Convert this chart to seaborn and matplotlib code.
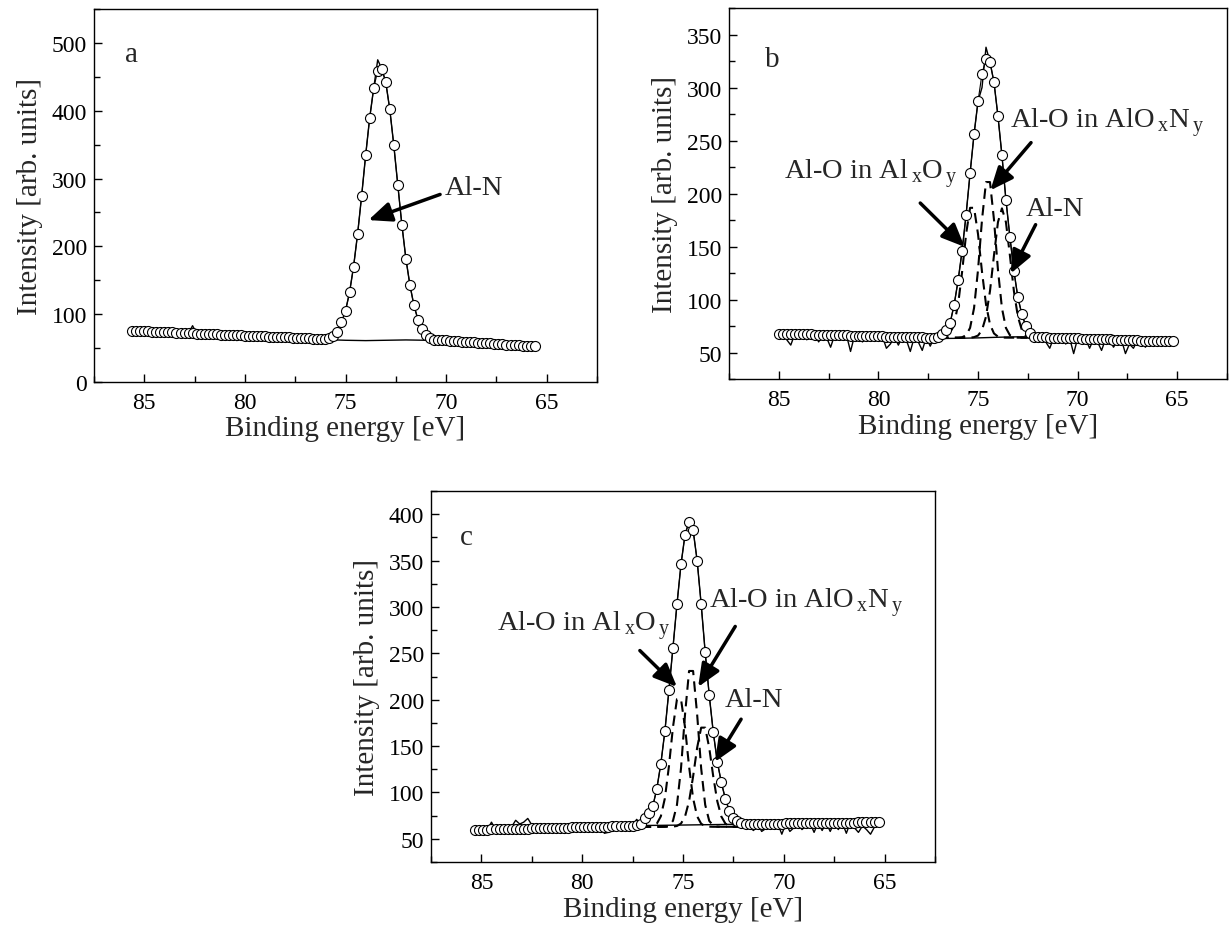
import numpy as np
import pandas as pd
import seaborn as sns
import matplotlib
matplotlib.use("Agg")
from matplotlib import pyplot as plt
from matplotlib.ticker import MultipleLocator

# ---------------- panel a : single Al-N component ----------------
energy_a = np.round(np.arange(85.6, 65.5, -0.2), 1)
fit_a = [75.5, 75.2, 75.0, 74.7, 74.5, 74.2, 74.0, 73.7, 73.5, 73.2,
         73.0, 72.7, 72.4, 72.2, 71.9, 71.7, 71.4, 71.2, 70.9, 70.7,
         70.4, 70.1, 69.9, 69.6, 69.4, 69.1, 68.9, 68.6, 68.4, 68.1,
         67.9, 67.6, 67.3, 67.1, 66.8, 66.6, 66.3, 66.1, 65.8, 65.6,
         65.3, 65.1, 64.8, 64.5, 64.3, 64.0, 63.8, 63.6, 63.5, 64.5,
         68, 74, 88, 105, 132, 170, 218, 274, 334, 389, 433, 459, 462,
         442, 402, 349, 290, 232, 182, 143, 113, 92, 78, 69, 65,
         62.5, 62.0, 61.6, 61.2, 60.8, 60.4, 60.0, 59.6, 59.2, 58.8,
         58.4, 58.0, 57.6, 57.2, 56.8, 56.4, 56.0, 55.6, 55.2, 54.8,
         54.4, 54.0, 53.6, 53.2, 52.8, 52.4]
# points where the measured curve leaves the fit
raw_a_diff = {82.6: 83, 80.4: 61, 79.2: 60, 78.4: 60, 77.8: 60.5, 77.2: 59.5,
              76.4: 60, 73.4: 475, 70.6: 57, 69.6: 55}
bg_a_x = [85.6, 76.0, 75.0, 74.0, 73.0, 72.0, 71.0, 70.6, 65.6]
bg_a_y = [75.5, 62.5, 61.5, 61.0, 61.5, 62.0, 61.5, 61.0, 52.4]

# ---------------- panel b ----------------
energy_b = np.round(np.arange(85.0, 65.1, -0.2), 1)
fit_b = [67.8, 67.7, 67.6, 67.5, 67.4, 67.3, 67.2, 67.1, 67.0, 66.9,
         66.8, 66.7, 66.6, 66.5, 66.4, 66.3, 66.2, 66.1, 66.0, 65.9,
         65.8, 65.7, 65.6, 65.5, 65.4, 65.3, 65.2, 65.1, 65.0, 64.9,
         64.8, 64.7, 64.6, 64.5, 64.4, 64.3, 64.2, 64.1, 64.0, 64.0,
         65, 67, 71, 78, 95, 118, 146, 180, 219, 256, 287, 313, 327,
         324, 305, 273, 236, 194, 159, 127, 102, 86, 75, 68, 65,
         64.5, 64.4, 64.3, 64.1, 64.0, 63.9, 63.8, 63.6, 63.5, 63.4,
         63.3, 63.1, 63.0, 62.9, 62.8, 62.6, 62.5, 62.4, 62.3, 62.1,
         62.0, 61.9, 61.8, 61.6, 61.5, 61.4, 61.3, 61.1, 61.0, 60.9,
         60.8, 60.7, 60.6, 60.5, 60.5]
raw_b_diff = {84.6: 62, 84.4: 57, 84.0: 64, 83.6: 62, 83.0: 60, 82.6: 64,
              82.4: 55, 82.0: 62, 81.4: 51, 81.0: 63, 80.8: 60, 80.2: 63,
              79.6: 54, 79.4: 58, 79.0: 57, 78.6: 62, 78.4: 51, 78.0: 60,
              77.8: 52, 77.4: 56, 74.8: 300, 74.6: 338, 71.6: 60, 71.4: 54,
              71.0: 62, 70.6: 58, 70.2: 49, 69.8: 60, 69.4: 54, 69.0: 60,
              68.8: 52, 68.2: 55, 68.0: 61, 67.6: 49, 67.4: 58, 67.2: 54,
              66.6: 55, 66.2: 59, 65.8: 57}
bg_b_x = [85.0, 77.0, 76.0, 75.0, 74.0, 73.0, 72.2, 65.2]
bg_b_y = [67.8, 63.2, 63.4, 63.8, 64.4, 64.8, 64.6, 60.5]
comp_e_b = np.round(np.arange(77.0, 71.9, -0.2), 1)
alox_b = [64, 64.2, 65, 68, 76.6, 95.4, 126, 161.6, 186.5, 186.5, 161.6, 126,
          95.4, 76.6, 68, 65, 64.2, 64, 64, 64, 64, 64, 64, 64, 64, 64]
aloxn_b = [64, 64, 64, 64, 64, 64, 64.4, 66.3, 73.2, 91.9, 128, 175.4, 210.8,
           210.8, 175.4, 128, 91.9, 73.2, 66.3, 64.4, 64, 64, 64, 64, 64, 64]
aln_b = [64, 64, 64, 64, 64, 64, 64, 64, 64, 64.5, 66, 71.2, 83.9, 108, 141.6,
         173, 186, 173, 141.6, 108, 83.9, 71.2, 66, 64.5, 64, 64]

# ---------------- panel c ----------------
energy_c = np.round(np.arange(85.3, 65.2, -0.2), 1)
fit_c = [59.7, 59.8, 59.9, 60.0, 60.1, 60.2, 60.4, 60.5, 60.6, 60.7,
         60.8, 60.9, 61.0, 61.1, 61.2, 61.3, 61.5, 61.6, 61.7, 61.8,
         61.9, 62.0, 62.1, 62.2, 62.3, 62.4, 62.6, 62.7, 62.8, 62.9,
         63.0, 63.1, 63.2, 63.3, 63.4, 63.5, 63.7, 63.8, 63.9, 64.2, 64.8,
         66, 73, 78, 85, 104, 131, 166, 210, 256, 303, 346, 378, 392,
         383, 350, 303, 251, 205, 165, 133, 111, 93, 80, 73, 69, 67,
         66.0, 66.1, 66.1, 66.2, 66.2, 66.3, 66.4, 66.4, 66.5, 66.5,
         66.6, 66.7, 66.7, 66.8, 66.8, 66.9, 67.0, 67.0, 67.1, 67.1,
         67.2, 67.3, 67.3, 67.4, 67.4, 67.5, 67.6, 67.6, 67.7, 67.7,
         67.8, 67.9, 67.9, 68.0]
raw_c_diff = {84.9: 62, 84.7: 60, 84.5: 68, 84.3: 60, 83.9: 62, 83.5: 63,
              83.3: 70, 83.1: 66, 82.9: 68, 82.7: 72, 82.5: 65, 81.9: 60,
              81.3: 62, 80.7: 58, 80.1: 60, 79.5: 62, 78.9: 56, 78.7: 57,
              78.3: 60, 77.7: 62, 77.3: 71, 71.7: 62, 71.5: 59, 71.1: 58,
              70.9: 61, 70.5: 62, 70.1: 55, 69.7: 58, 69.5: 62, 69.1: 60,
              68.9: 64, 68.5: 57, 68.1: 59, 67.7: 58, 67.3: 60, 66.9: 56,
              66.5: 62, 66.3: 57, 66.1: 64, 65.9: 60, 65.7: 55, 65.5: 63}
bg_c_x = [85.3, 77.2, 76.0, 75.0, 74.0, 73.0, 72.0, 65.3]
bg_c_y = [59.7, 64.4, 64.6, 64.9, 65.2, 65.5, 65.9, 68.0]
comp_e_c = np.round(np.arange(77.1, 72.0, -0.2), 1)
alox_c = [63, 63, 63.1, 63.7, 66.3, 74.3, 93.7, 128, 170.2, 200.6, 200.6, 170.2,
          128, 93.7, 74.3, 66.3, 63.7, 63.1, 63, 63, 63, 63, 63, 63, 63, 63]
aloxn_c = [63, 63, 63, 63, 63, 63, 63.2, 64.3, 69.4, 86.7, 126, 184.3, 231,
           231, 184.3, 126, 86.7, 69.4, 64.3, 63.2, 63, 63, 63, 63, 63, 63]
aln_c = [63, 63, 63, 63, 63, 63, 63, 63, 63.2, 63.9, 66.5, 74.1, 90.5, 117.2,
         148.2, 169.9, 169.9, 148.2, 117.2, 90.5, 74.1, 66.5, 63.9, 63.2, 63, 63]

lbl_alox = r"Al-O in Al$_{\,\mathregular{x}}$O$_{\,\mathregular{y}}$"
lbl_aloxn = r"Al-O in AlO$_{\,\mathregular{x}}$N$_{\,\mathregular{y}}$"

panels = [
    dict(letter="a", rect=[0.0764, 0.5873, 0.409, 0.402], e=energy_a, fit=fit_a,
         raw=raw_a_diff, bgx=bg_a_x, bgy=bg_a_y, comps=None,
         ylim=(0, 550), ymaj=100, ymin=50, letter_xy=(0.074, 0.88),
         notes=[("Al-N", (68.6, 287), (70.3, 276.5), (73.86, 238.7))]),
    dict(letter="b", rect=[0.5927, 0.5905, 0.4049, 0.3998], e=energy_b, fit=fit_b,
         raw=raw_b_diff, bgx=bg_b_x, bgy=bg_b_y,
         comps=(comp_e_b, [alox_b, aloxn_b, aln_b]),
         ylim=(25, 375), ymaj=50, ymin=25, letter_xy=(0.086, 0.862),
         notes=[(lbl_alox, (80.4, 219), (77.9, 191), (75.67, 149.6)),
                (lbl_aloxn, (68.5, 267), (72.34, 248), (74.38, 203)),
                ("Al-N", (71.15, 186), (72.11, 170.6), (73.36, 124.5))]),
    dict(letter="c", rect=[0.3504, 0.070, 0.4098, 0.3998], e=energy_c, fit=fit_c,
         raw=raw_c_diff, bgx=bg_c_x, bgy=bg_c_y,
         comps=(comp_e_c, [alox_c, aloxn_c, aln_c]),
         ylim=(25, 425), ymaj=50, ymin=25, letter_xy=(0.071, 0.876),
         notes=[(lbl_alox, (79.9, 280), (77.14, 253), (75.3, 213.8)),
                (lbl_aloxn, (68.9, 305), (72.41, 279), (74.25, 213.8)),
                ("Al-N", (71.47, 200), (72.12, 179), (73.42, 133))]),
]

sns.set_theme(style="ticks")
plt.rcParams['font.family'] = ['Liberation Serif', 'DejaVu Serif']
plt.rcParams['mathtext.fontset'] = 'custom'
plt.rcParams['mathtext.rm'] = 'Liberation Serif'

fig = plt.figure(figsize=(12.3, 9.28), dpi=100)

for p in panels:
    ax = fig.add_axes(p["rect"])
    e = p["e"]
    fit = np.array(p["fit"], dtype=float)
    raw = fit.copy()
    for k, v in p["raw"].items():
        raw[np.isclose(e, k)] = v
    df = pd.DataFrame({"energy": e, "fit": fit, "raw": raw})

    sns.lineplot(data=pd.DataFrame({"x": p["bgx"], "y": p["bgy"]}), x="x", y="y",
                 ax=ax, color="black", lw=1.0, sort=False, estimator=None)
    if p["comps"] is not None:
        ce, comps = p["comps"]
        for c in comps:
            sns.lineplot(x=ce, y=c, ax=ax, color="black", lw=1.5,
                         linestyle=(0, (5, 3)), sort=False, estimator=None)
    sns.lineplot(data=df, x="energy", y="raw", ax=ax, color="black", lw=1.0,
                 sort=False, estimator=None)
    sns.lineplot(data=df, x="energy", y="fit", ax=ax, color="black", lw=0.8,
                 sort=False, estimator=None)
    sns.scatterplot(data=df, x="energy", y="fit", ax=ax, marker="o", s=52,
                    facecolor="white", edgecolor="black", linewidth=0.8, zorder=3)

    ax.set_xlim(87.5, 62.5)
    ax.set_ylim(*p["ylim"])
    ax.xaxis.set_major_locator(MultipleLocator(5))
    ax.xaxis.set_minor_locator(MultipleLocator(2.5))
    ax.yaxis.set_major_locator(MultipleLocator(p["ymaj"]))
    ax.yaxis.set_minor_locator(MultipleLocator(p["ymin"]))
    ax.tick_params(which="both", direction="in", top=False, right=False,
                   width=1.0, labelsize=17, colors="black")
    ax.tick_params(which="major", length=6)
    ax.tick_params(which="minor", length=4)
    ax.tick_params(axis="x", pad=7)
    ax.tick_params(axis="y", pad=5)
    for s in ax.spines.values():
        s.set_linewidth(1.0)
        s.set_color("black")
    ax.set_xlabel("Binding energy [eV]", fontsize=21, labelpad=2)
    ax.set_ylabel("Intensity [arb. units]", fontsize=21, labelpad=6)

    ax.text(*p["letter_xy"], p["letter"], transform=ax.transAxes, fontsize=21,
            ha="center", va="center")
    for txt, pos, tail, head in p["notes"]:
        ax.annotate("", xy=head, xytext=tail,
                    arrowprops=dict(arrowstyle="-|>,head_length=0.7,head_width=0.3",
                                    lw=2.5, color="black", shrinkA=0, shrinkB=0,
                                    mutation_scale=20))
        ax.text(*pos, txt, fontsize=20.5, ha="center", va="center")

fig.savefig("out.png", dpi=100)
